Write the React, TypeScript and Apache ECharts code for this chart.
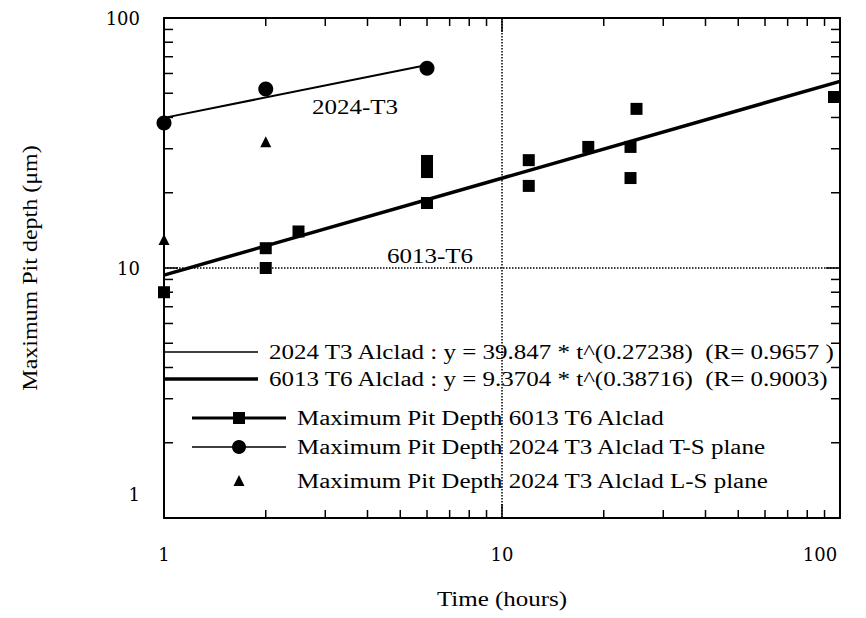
import React, { useEffect, useRef } from "react";
import * as echarts from "echarts";

// ---- data ----
const t6Time = [1, 2, 2, 2.5, 6, 6, 6, 12, 12, 18, 24, 24, 25, 96];
const t6Depth = [8, 12, 10, 14, 26.8, 24.2, 18.2, 27, 21.3, 30.5, 30.5, 22.9, 43.3, 48.3];

const t3TSTime = [1, 2, 6];
const t3TSDepth = [38, 52, 63];

const t3LSTime = [1, 2];
const t3LSDepth = [13, 32];

// power-law fit lines (straight in log-log), endpoints
const fitT3Time = [1, 6];
const fitT3Depth = [39.85, 64.9];
const fitT6Time = [1, 100];
const fitT6Depth = [9.37, 55.8];

const minorTicks = [2, 3, 4, 5, 6, 7, 8, 9, 20, 30, 40, 50, 60, 70, 80, 90];

const legendRows = [
  "2024 T3 Alclad : y = 39.847 * t^(0.27238)  (R= 0.9657 )",
  "6013 T6 Alclad : y = 9.3704 * t^(0.38716)  (R= 0.9003)",
  "Maximum Pit Depth 6013 T6 Alclad",
  "Maximum Pit Depth 2024 T3 Alclad T-S plane",
  "Maximum Pit Depth 2024 T3 Alclad L-S plane",
];

const zip = (a: number[], b: number[]) => a.map((v, i) => [v, b[i]]);

const SERIF = "'Liberation Serif', 'Times New Roman', serif";
const LABEL_FONT = "'DejaVu Serif', serif";
const SX = 1.25;

function txt(text: string, x: number, y: number, align = "left", size = 20, extra: any = {}) {
  return {
    type: "text",
    x,
    y,
    scaleX: SX,
    silent: true,
    ...extra,
    style: {
      text,
      x: 0,
      y: 0,
      fill: "#000",
      font: `${size}px ${SERIF}`,
      textAlign: align,
      textVerticalAlign: "middle",
      align,
      verticalAlign: "middle",
    },
  };
}

function lineEl(x1: number, x2: number, y: number, w: number) {
  return {
    type: "line",
    silent: true,
    shape: { x1, y1: y, x2, y2: y },
    style: { stroke: "#000", lineWidth: w },
  };
}

export default function App() {
  const ref = useRef<HTMLDivElement>(null);

  useEffect(() => {
    if (!ref.current) return;
    const chart = echarts.init(ref.current, undefined, { renderer: "svg" });

    const axisLine = { show: true, lineStyle: { color: "#000", width: 2 } };
    const majorTick = { show: true, inside: true, length: 14, lineStyle: { color: "#000", width: 1.5 } };
    const dotted = { show: true, lineStyle: { color: "#000", width: 1.5, type: "dotted" } };

    const minorX = (params: any, api: any) => {
      const v = api.value(0);
      const b = api.coord([v, 1]);
      const t = api.coord([v, 100]);
      return {
        type: "group",
        children: [
          { type: "line", shape: { x1: b[0], y1: b[1], x2: b[0], y2: b[1] - 8 }, style: { stroke: "#000", lineWidth: 1.5 } },
          { type: "line", shape: { x1: t[0], y1: t[1], x2: t[0], y2: t[1] + 8 }, style: { stroke: "#000", lineWidth: 1.5 } },
        ],
      };
    };
    const minorY = (params: any, api: any) => {
      const v = api.value(1);
      const l = api.coord([1, v]);
      const r = api.coord([100, v]);
      return {
        type: "group",
        children: [
          { type: "line", shape: { x1: l[0], y1: l[1], x2: l[0] + 9, y2: l[1] }, style: { stroke: "#000", lineWidth: 1.5 } },
          { type: "line", shape: { x1: r[0], y1: r[1], x2: r[0] - 9, y2: r[1] }, style: { stroke: "#000", lineWidth: 1.5 } },
        ],
      };
    };

    const legendX1 = 165, legendX2 = 258, legendTx = 269;
    const mX1 = 192, mX2 = 286, mC = 239, mTx = 297;
    const rowsY = [352, 379, 418, 447, 481];

    const graphic: any[] = [
      lineEl(legendX1, legendX2, rowsY[0], 1.5),
      txt(legendRows[0], legendTx, rowsY[0]),
      lineEl(legendX1, legendX2, rowsY[1], 3.5),
      txt(legendRows[1], legendTx, rowsY[1]),
      lineEl(mX1, mX2, rowsY[2], 3),
      { type: "rect", silent: true, shape: { x: mC - 6, y: rowsY[2] - 6, width: 12, height: 12 }, style: { fill: "#000" } },
      txt(legendRows[2], mTx, rowsY[2]),
      lineEl(mX1, mX2, rowsY[3], 1.5),
      { type: "circle", silent: true, shape: { cx: mC, cy: rowsY[3], r: 7 }, style: { fill: "#000" } },
      txt(legendRows[3], mTx, rowsY[3]),
      {
        type: "polygon",
        silent: true,
        shape: { points: [[mC, rowsY[4] - 6], [mC - 5.5, rowsY[4] + 5], [mC + 5.5, rowsY[4] + 5]] },
        style: { fill: "#000" },
      },
      txt(legendRows[4], mTx, rowsY[4]),
      // annotations
      txt("2024-T3", 355, 107, "center"),
      txt("6013-T6", 430, 256, "center"),
      // axis titles
      txt("Time (hours)", 502, 599, "center"),
      {
        type: "text",
        x: 30,
        y: 268,
        rotation: Math.PI / 2,
        scaleX: 1.2,
        silent: true,
        style: {
          text: "Maximum Pit depth (\u03bcm)",
          x: 0,
          y: 0,
          fill: "#000",
          font: `20px ${SERIF}`,
          textAlign: "center",
          textVerticalAlign: "middle",
          align: "center",
          verticalAlign: "middle",
        },
      },
    ];

    const option: any = {
      animation: false,
      backgroundColor: "#fff",
      grid: { left: 164, right: 26, top: 18, bottom: 100, containLabel: false },
      xAxis: [
        {
          type: "log",
          logBase: 10,
          min: 1,
          max: 100,
          position: "bottom",
          axisLine,
          axisTick: majorTick,
          splitLine: dotted,
          axisLabel: {
            margin: 27,
            color: "#000",
            fontFamily: LABEL_FONT,
            fontSize: 18,
            formatter: (v: number) => (v >= 100 ? "{r|" + v + "}" : "{n|" + v + "}"),
            rich: {
              n: { fontFamily: LABEL_FONT, fontSize: 18, color: "#000" },
              r: { fontFamily: LABEL_FONT, fontSize: 18, color: "#000", padding: [0, 40, 0, 0] },
            },
          },
        },
        {
          type: "log",
          logBase: 10,
          min: 1,
          max: 100,
          position: "top",
          axisLine,
          axisTick: majorTick,
          splitLine: { show: false },
          axisLabel: { show: false },
        },
      ],
      yAxis: [
        {
          type: "log",
          logBase: 10,
          min: 1,
          max: 100,
          position: "left",
          axisLine,
          axisTick: majorTick,
          splitLine: dotted,
          axisLabel: {
            margin: 24,
            color: "#000",
            fontFamily: LABEL_FONT,
            fontSize: 18,
            formatter: (v: number) => (v <= 1 ? "{low|" + v + "}" : "{n|" + v + "}"),
            rich: {
              n: { fontFamily: LABEL_FONT, fontSize: 18, color: "#000" },
              low: { fontFamily: LABEL_FONT, fontSize: 18, color: "#000", padding: [0, 0, 48, 0] },
            },
          },
        },
        {
          type: "log",
          logBase: 10,
          min: 1,
          max: 100,
          position: "right",
          axisLine,
          axisTick: majorTick,
          splitLine: { show: false },
          axisLabel: { show: false },
        },
      ],
      series: [
        {
          type: "custom",
          name: "minorX",
          silent: true,
          clip: false,
          renderItem: minorX,
          data: minorTicks.map((v) => [v, 1]),
          z: 1,
        },
        {
          type: "custom",
          name: "minorY",
          silent: true,
          clip: false,
          renderItem: minorY,
          data: minorTicks.map((v) => [1, v]),
          z: 1,
        },
        {
          type: "line",
          name: "2024 T3 fit",
          data: zip(fitT3Time, fitT3Depth),
          showSymbol: false,
          symbol: "none",
          lineStyle: { color: "#000", width: 2 },
          z: 3,
        },
        {
          type: "line",
          name: "6013 T6 fit",
          data: zip(fitT6Time, fitT6Depth),
          showSymbol: false,
          symbol: "none",
          lineStyle: { color: "#000", width: 3.5 },
          z: 3,
        },
        {
          type: "scatter",
          name: "Maximum Pit Depth 6013 T6 Alclad",
          data: zip(t6Time, t6Depth),
          symbol: "rect",
          symbolSize: 12,
          itemStyle: { color: "#000", opacity: 1 },
          clip: false,
          z: 4,
        },
        {
          type: "scatter",
          name: "Maximum Pit Depth 2024 T3 Alclad T-S plane",
          data: zip(t3TSTime, t3TSDepth),
          symbol: "circle",
          symbolSize: 15,
          itemStyle: { color: "#000", opacity: 1 },
          clip: false,
          z: 4,
        },
        {
          type: "scatter",
          name: "Maximum Pit Depth 2024 T3 Alclad L-S plane",
          data: zip(t3LSTime, t3LSDepth),
          symbol: "triangle",
          symbolSize: 11,
          itemStyle: { color: "#000", opacity: 1 },
          clip: false,
          z: 4,
        },
      ],
      graphic,
    };

    chart.setOption(option);
    return () => chart.dispose();
  }, []);

  return (
    <div
      ref={ref}
      style={{ position: "fixed", left: 0, top: 0, width: 866, height: 618, background: "#fff" }}
    />
  );
}
